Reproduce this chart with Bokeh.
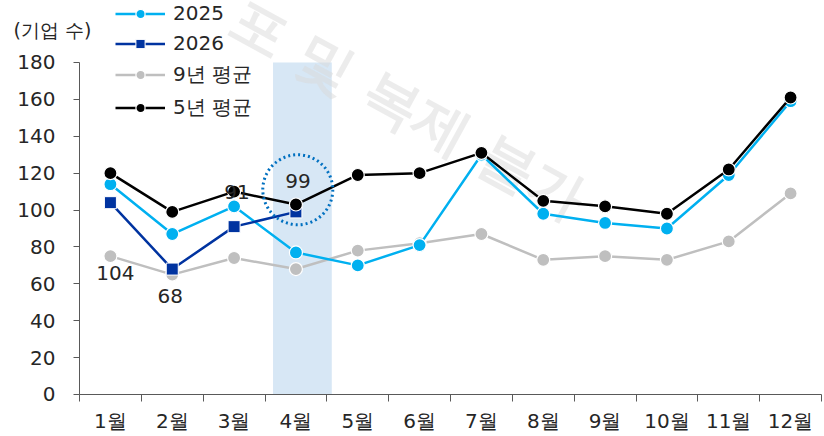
from bokeh.plotting import figure
from bokeh.models import (ColumnDataSource, FixedTicker, Legend, LegendItem, Label,
                          BoxAnnotation, LinearAxis)
from bokeh.core.properties import value
from bokeh.embed import file_html
from bokeh.resources import INLINE

# ---- data ----
months = ["1월", "2월", "3월", "4월", "5월", "6월", "7월", "8월", "9월", "10월", "11월", "12월"]
v2025 = [114, 87, 102, 77, 70, 81, 130, 98, 93, 90, 119, 159]
v2026 = [104, 68, 91, 99]
avg9 = [75, 65, 74, 68, 78, 82, 87, 73, 75, 73, 83, 109]
avg5 = [120, 99, 110, 103, 119, 120, 131, 105, 102, 98, 122, 161]
y_ticks = [0, 20, 40, 60, 80, 100, 120, 140, 160, 180]
unit_label = "(기업 수)"
watermark = "포 및 복제 불가"

FONT = "DejaVu Sans"
TXT = "#262626"
W, H = 824, 436

x = list(range(1, 13))
x26 = x[:len(v2026)]

# frame covers the whole canvas; axes are pinned inside it
p = figure(width=W, height=H, output_backend="svg", toolbar_location=None,
           x_range=(-0.7777, 12.5485), y_range=(-22.77, 213.6),
           x_axis_location=None, y_axis_location=None,
           min_border=0, min_border_left=0, min_border_right=0,
           min_border_top=0, min_border_bottom=0)
p.outline_line_color = None
p.grid.visible = False

# highlight band for April
p.add_layout(BoxAnnotation(left=3.63, right=4.58, top=180, bottom=0,
                           fill_color="#BDD7EE", fill_alpha=0.6, line_color=None, level="underlay"))
# watermark
p.add_layout(Label(x=3.02, y=206.2, text=watermark, angle=-0.5, text_font=FONT,
                   text_font_size="56px", text_font_style="bold", text_color="#DADADA",
                   text_alpha=0.5, text_baseline="middle", text_align="left", level="underlay"))

# axes
xax = LinearAxis(fixed_location=0, bounds=(0.5, 12.5))
xax.ticker = FixedTicker(ticks=x, minor_ticks=[i + 0.5 for i in range(0, 13)])
xax.major_label_overrides = {i + 1: m for i, m in enumerate(months)}
xax.major_tick_out = 0
xax.major_tick_in = 0
xax.minor_tick_out = 7
xax.minor_tick_in = 0
xax.minor_tick_line_color = "#595959"
xax.axis_line_color = "#595959"
xax.major_label_standoff = 8
yax = LinearAxis(fixed_location=0.5, bounds=(0, 180))
yax.ticker = FixedTicker(ticks=y_ticks)
yax.major_tick_out = 6
yax.major_tick_in = 0
yax.minor_tick_out = 0
yax.minor_tick_in = 0
yax.major_tick_line_color = "#595959"
yax.axis_line_color = "#595959"
yax.major_label_standoff = 18
for ax in (xax, yax):
    ax.major_label_text_font = FONT
    ax.major_label_text_font_size = "20px"
    ax.major_label_text_color = TXT
p.add_layout(xax, "below")
p.add_layout(yax, "left")

# series
c25, c26, c9, c5 = "#00B0F0", "#0033A0", "#BFBFBF", "#000000"
l9 = p.line(x, avg9, line_color=c9, line_width=2.5)
m9 = p.scatter(x, avg9, marker="circle", size=13, fill_color=c9, line_color="white", line_width=1.2)
l25 = p.line(x, v2025, line_color=c25, line_width=2.5)
m25 = p.scatter(x, v2025, marker="circle", size=13, fill_color=c25, line_color="white", line_width=1.2)
l26 = p.line(x26, v2026, line_color=c26, line_width=2.5)
m26 = p.scatter(x26, v2026, marker="square", size=12, fill_color=c26, line_color="white", line_width=1.0)
l5 = p.line(x, avg5, line_color=c5, line_width=2.5)
m5 = p.scatter(x, avg5, marker="circle", size=13, fill_color=c5, line_color="white", line_width=1.2)

# data labels for 2026 (screen offsets; positive y_offset = downward)
lab_dx = [5, -2, 3, 2]
lab_dy = [70, 27, -35, -31]
src = ColumnDataSource(dict(x=x26, y=v2026, t=[str(v) for v in v2026], dx=lab_dx, dy=lab_dy))
p.text(x="x", y="y", text="t", x_offset="dx", y_offset="dy", source=src,
       text_align="center", text_baseline="middle", text_font=value(FONT),
       text_font_size="20px", text_color=TXT)

# dotted highlight circle around April 2026 value
p.scatter([4.03], [v2026[3] + 12], marker="circle", size=70, fill_color=None,
          line_color="#0070C0", line_width=3, line_dash="2 3")

# legend (location: x from frame left, y = legend bottom from frame bottom)
legend = Legend(items=[LegendItem(label="2025", renderers=[l25, m25]),
                       LegendItem(label="2026", renderers=[l26, m26]),
                       LegendItem(label="9년 평균", renderers=[l9, m9]),
                       LegendItem(label="5년 평균", renderers=[l5, m5])],
                location=(115, 315), orientation="vertical",
                background_fill_alpha=0, border_line_color=None,
                padding=0, margin=0, spacing=6, label_height=23, glyph_height=23,
                glyph_width=50, label_standoff=8,
                label_text_font=FONT, label_text_font_size="20px", label_text_color=TXT)
p.add_layout(legend, "center")

# unit label
p.add_layout(Label(x=-0.568, y=197.4, text=unit_label, text_font=FONT, text_font_size="19px",
                   text_color=TXT, text_baseline="middle", text_align="left"))

open("out.html", "w").write(file_html(p, INLINE))
